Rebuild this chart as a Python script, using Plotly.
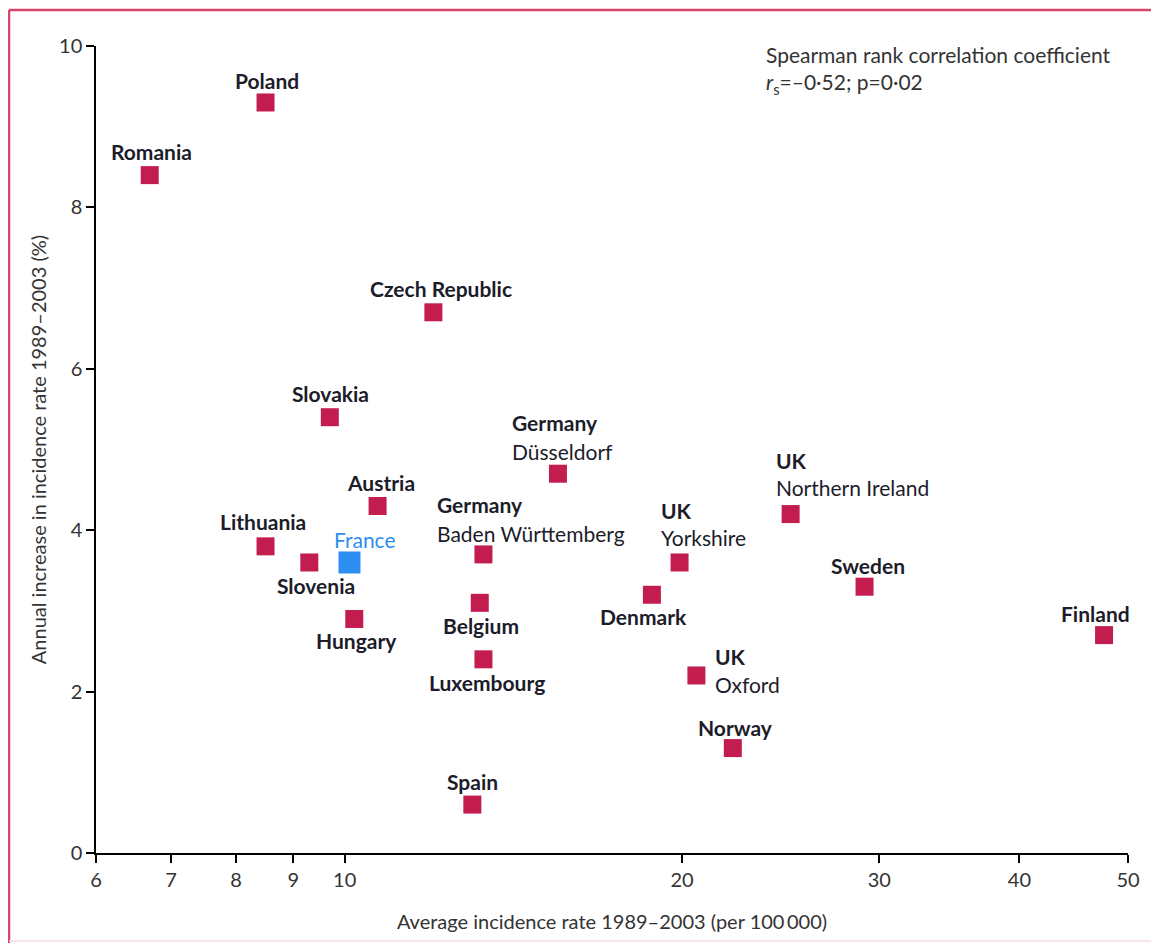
import numpy as np
import plotly.graph_objects as go

# ---- data ----
countries = ["Poland", "Romania", "Czech Republic", "Slovakia", "Germany", "Austria",
             "UK", "Lithuania", "Slovenia", "France", "Germany", "UK", "Sweden",
             "Denmark", "Belgium", "Hungary", "Finland", "Luxembourg", "UK",
             "Norway", "Spain"]
regions = ["", "", "", "", "Düsseldorf", "", "Northern Ireland", "", "", "",
           "Baden Württemberg", "Yorkshire", "", "", "", "", "", "", "Oxford", "", ""]
incidence = [8.5, 6.7, 12.0, 9.7, 15.5, 10.7, 25.0, 8.5, 9.3, 10.1, 13.3, 19.9, 29.1,
             18.8, 13.2, 10.2, 47.6, 13.3, 20.6, 22.2, 13.0]
annual_increase = [9.3, 8.4, 6.7, 5.4, 4.7, 4.3, 4.2, 3.8, 3.6, 3.6, 3.7, 3.6, 3.3,
                   3.2, 3.1, 2.9, 2.7, 2.4, 2.2, 1.3, 0.6]
x_ticks = [6, 7, 8, 9, 10, 20, 30, 40, 50]
y_ticks = [0, 2, 4, 6, 8, 10]

# ---- styles ----
FONT = "Lato"
TXT = "#1c1c2a"
GREY = "#333333"
RED = "#c21d4e"
BLUE = "#2b8ef0"
BORDER = "#d8456b"
LBL = 21

# label offsets (px): single line -> (dx, dy); two lines -> (dx_left, dy1, dy2)
label_pos = {
    0: (1, 22), 1: (2, 24), 2: (8, 24), 3: (1, 24), 4: (-48, 51, 22), 5: (3, 23),
    6: (-17, 54, 27), 7: (-3, 25), 8: (7, -23), 9: (16, 23), 10: (-48, 50, 21),
    11: (-21, 52, 25), 12: (3, 21), 13: (-8, -22), 14: (1, -23), 15: (2, -22),
    16: (-9, 22), 17: (4, -23), 18: (17, 19, -9), 19: (3, 21), 20: (0, 23),
}

colors = [BLUE if c == "France" else RED for c in countries]
sizes = [22 if c == "France" else 18 for c in countries]

fig = go.Figure()
fig.add_trace(go.Scatter(
    x=incidence, y=annual_increase, mode="markers",
    marker=dict(symbol="square", size=sizes, color=colors, opacity=1, line=dict(width=0)),
    hovertext=[(c + " " + r).strip() for c, r in zip(countries, regions)],
    showlegend=False, cliponaxis=False,
))

annotations = []
for i, (c, r) in enumerate(zip(countries, regions)):
    lx = float(np.log10(incidence[i]))
    ly = annual_increase[i]
    pos = label_pos[i]
    if c == "France":
        annotations.append(dict(x=lx, y=ly, xref="x", yref="y", text=c, showarrow=False,
                                xshift=pos[0], yshift=pos[1], xanchor="center", yanchor="middle",
                                font=dict(family=FONT, size=LBL, color=BLUE)))
    elif r == "":
        annotations.append(dict(x=lx, y=ly, xref="x", yref="y", text="<b>%s</b>" % c,
                                showarrow=False, xshift=pos[0], yshift=pos[1],
                                xanchor="center", yanchor="middle",
                                font=dict(family=FONT, size=LBL, color=TXT)))
    else:
        annotations.append(dict(x=lx, y=ly, xref="x", yref="y", text="<b>%s</b>" % c,
                                showarrow=False, xshift=pos[0], yshift=pos[1],
                                xanchor="left", yanchor="middle",
                                font=dict(family=FONT, size=LBL, color=TXT)))
        annotations.append(dict(x=lx, y=ly, xref="x", yref="y", text=r,
                                showarrow=False, xshift=pos[0], yshift=pos[2],
                                xanchor="left", yanchor="middle",
                                font=dict(family=FONT, size=LBL, color=TXT)))

annotations.append(dict(
    x=0.647, y=1.008, xref="paper", yref="paper", xanchor="left", yanchor="top",
    align="left", showarrow=False,
    text="Spearman rank correlation coefficient<br><i>r</i><sub>s</sub>=–0·52; p=0·02",
    font=dict(family=FONT, size=21, color=GREY),
))

# figure border (pink frame)
shapes = [
    dict(type="line", xref="paper", yref="paper", x0=-0.0843, x1=1.03, y0=1.0446, y1=1.0446,
         line=dict(color=BORDER, width=2.5)),
    dict(type="line", xref="paper", yref="paper", x0=-0.0843, x1=-0.0843, y0=1.0446, y1=-0.12,
         line=dict(color=BORDER, width=2.5)),
    dict(type="line", xref="paper", yref="paper", x0=-0.0843, x1=1.03, y0=-0.109, y1=-0.109,
         line=dict(color="#f4dde3", width=1.5)),
]

axis_common = dict(
    showline=True, linecolor="black", linewidth=1.5, ticks="outside", ticklen=8,
    tickwidth=1.5, tickcolor="black", showgrid=False, zeroline=False,
    tickfont=dict(family=FONT, size=20, color=GREY),
)

# page body has an 8px margin -> figure is 16px smaller than the window
fig.update_layout(
    width=1143, height=935,
    margin=dict(l=88, r=23, t=38, b=90),
    paper_bgcolor="white", plot_bgcolor="white",
    xaxis=dict(type="log", range=[np.log10(6), np.log10(50)], tickvals=x_ticks,
               ticktext=[str(v) for v in x_ticks],
               title=dict(text="Average incidence rate 1989–2003 (per 100\u2009000)",
                          font=dict(family=FONT, size=20, color=GREY), standoff=25),
               **axis_common),
    yaxis=dict(range=[0, 10], tickvals=y_ticks, ticktext=[str(v) for v in y_ticks],
               title=dict(text="Annual increase in incidence rate 1989–2003 (%)",
                          font=dict(family=FONT, size=20, color=GREY), standoff=7),
               **axis_common),
    annotations=annotations,
    shapes=shapes,
)

fig.write_html("out.html")
